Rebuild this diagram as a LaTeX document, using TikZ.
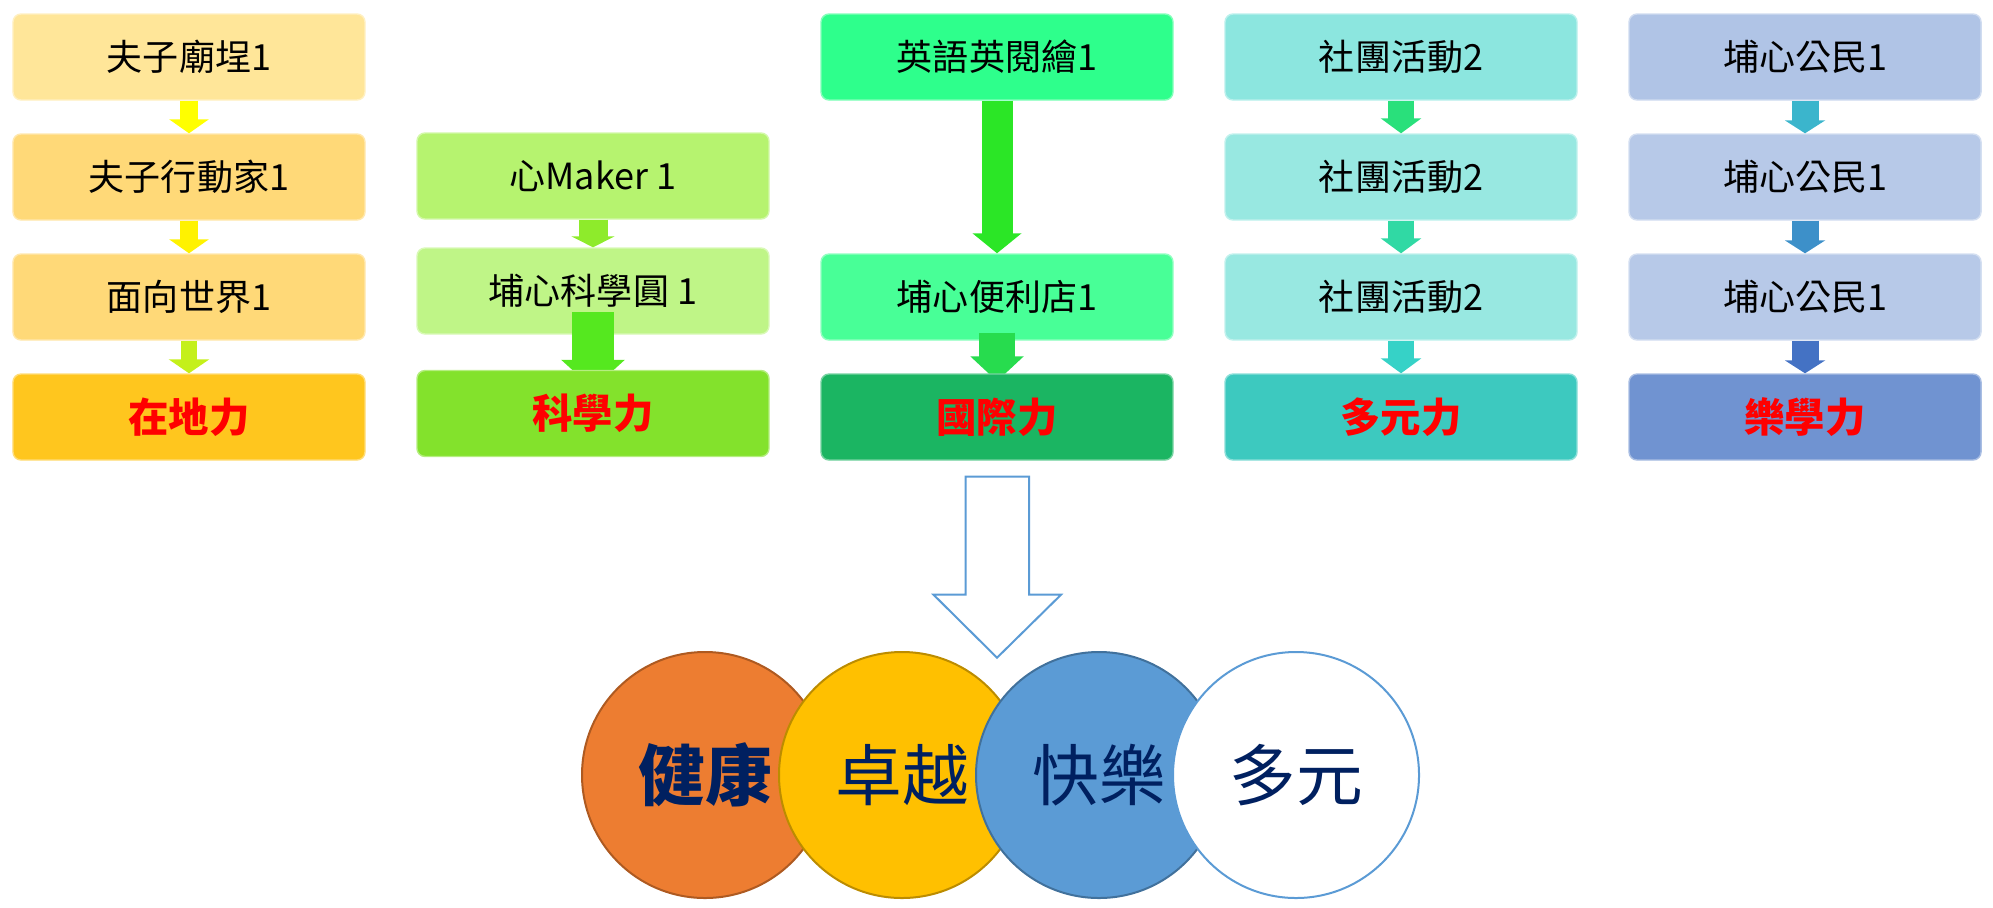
\documentclass[tikz,border=0pt]{standalone}
\usepackage{fontspec}
\setmainfont{Noto Sans CJK TC}
\usetikzlibrary{positioning,arrows.meta,shapes.geometric}
\pgfdeclarelayer{front}
\pgfsetlayers{main,front}

\definecolor{ya}{HTML}{FFE699}
\definecolor{yb}{HTML}{FFD978}
\definecolor{yc}{HTML}{FFC61E}
\definecolor{ga}{HTML}{B6F36F}
\definecolor{gb}{HTML}{BFF587}
\definecolor{gc}{HTML}{83E22C}
\definecolor{ma}{HTML}{2EFF8C}
\definecolor{mb}{HTML}{48FF97}
\definecolor{mc}{HTML}{1BB562}
\definecolor{ta}{HTML}{8CE6DF}
\definecolor{tb}{HTML}{98E8E1}
\definecolor{tc}{HTML}{3DC9BF}
\definecolor{ba}{HTML}{B0C4E6}
\definecolor{bb}{HTML}{B7C9E8}
\definecolor{bc}{HTML}{7093D1}
\definecolor{ya1}{HTML}{FFFF00}
\definecolor{ya2}{HTML}{FFF200}
\definecolor{ya3}{HTML}{C4F01A}
\definecolor{ga1}{HTML}{8EEB2B}
\definecolor{ga2}{HTML}{55E81F}
\definecolor{ma1}{HTML}{2BE626}
\definecolor{ma2}{HTML}{27DC4E}
\definecolor{ta1}{HTML}{29E07B}
\definecolor{ta2}{HTML}{30D9A4}
\definecolor{ta3}{HTML}{36D2C7}
\definecolor{ba1}{HTML}{3BB5CC}
\definecolor{ba2}{HTML}{3D90C9}
\definecolor{ba3}{HTML}{4472C4}
\definecolor{navy}{HTML}{002060}
\definecolor{sky}{HTML}{5B9BD5}
\definecolor{skyrim}{HTML}{41719C}
\definecolor{orange}{HTML}{ED7D31}
\definecolor{orangerim}{HTML}{AE5A21}
\definecolor{gold}{HTML}{FFC000}
\definecolor{goldrim}{HTML}{BC8C00}

\begin{document}
\begin{tikzpicture}[x=0.2mm,y=-0.2mm,node distance=24mm,on grid,
   box/.style={fill=#1,draw=#1!60!white,line width=0.8pt,rounded corners=1.6mm,
     minimum width=70.4mm,minimum height=17.2mm,font=\fontsize{20.5}{24}\selectfont},
   goal/.style={box=#1,text=red,font=\fontsize{23}{28}\selectfont\bfseries},
   flow/.style n args={4}{draw=#1,line width=#2,-{Triangle[width=#3,length=#4]}},
   ball/.style 2 args={circle,fill=#1,draw=#2,line width=0.4mm,minimum size=49.2mm,
     inner sep=0pt,text=navy,font=\fontsize{38}{44}\selectfont},
   hollow/.style={draw=sky,fill=white,line width=0.4mm}]
   \useasboundingbox (0,0) rectangle (1993,907);

   \node[box=ya] (a1) at (189,57) {夫子廟埕1};
   \node[box=yb] (a2) [below=of a1] {夫子行動家1};
   \node[box=yb] (a3) [below=of a2] {面向世界1};

   \node[box=ga] (b1) [below right=23.8mm and 80.8mm of a1] {心Maker 1};
   \node[box=gb] (b2) [below=23mm of b1] {埔心科學圓 1};

   \node[box=ma] (c1) [right=161.6mm of a1] {英語英閱繪1};
   \node[box=mb] (c2) [below=48mm of c1] {埔心便利店1};

   \node[box=ta] (d1) [right=80.8mm of c1] {社團活動2};
   \node[box=tb] (d2) [below=of d1] {社團活動2};
   \node[box=tb] (d3) [below=of d2] {社團活動2};

   \node[box=ba] (e1) [right=80.8mm of d1] {埔心公民1};
   \node[box=bb] (e2) [below=of e1] {埔心公民1};
   \node[box=bb] (e3) [below=of e2] {埔心公民1};

   \begin{pgfonlayer}{front}
   \node[goal=yc] (a4) [below=of a3] {在地力};
   \node[goal=gc] (b3) [below=24.5mm of b2] {科學力};
   \node[goal=mc] (c3) [below=of c2] {國際力};
   \node[goal=tc] (d4) [below=of d3] {多元力};
   \node[goal=bc] (e4) [below=of e3] {樂學力};
   \end{pgfonlayer}

   \draw[flow={ya1}{3.6mm}{7.8mm}{2.8mm}] (a1.south) -- (a2.north);
   \draw[flow={ya2}{3.6mm}{7.8mm}{2.8mm}] (a2.south) -- (a3.north);
   \draw[flow={ya3}{3.2mm}{8mm}{2.8mm}] (a3.south) -- (a4.north);
   \draw[flow={ga1}{5.8mm}{8.6mm}{2.2mm}] (b1.south) -- (b2.north);
   \draw[flow={ga2}{8.4mm}{12.4mm}{5.8mm}] ([yshift=4.5mm]b2.south) -- ([yshift=-3.8mm]b3.north);
   \draw[flow={ma1}{6.2mm}{9.6mm}{4mm}] (c1.south) -- (c2.north);
   \draw[flow={ma2}{7.2mm}{10.4mm}{5mm}] ([yshift=1.6mm]c2.south) -- ([yshift=-1.6mm]c3.north);
   \draw[flow={ta1}{5.2mm}{8mm}{3mm}] (d1.south) -- (d2.north);
   \draw[flow={ta2}{5.2mm}{8mm}{3mm}] (d2.south) -- (d3.north);
   \draw[flow={ta3}{5.2mm}{8mm}{3mm}] (d3.south) -- (d4.north);
   \draw[flow={ba1}{5.4mm}{8mm}{2.6mm}] (e1.south) -- (e2.north);
   \draw[flow={ba2}{5.4mm}{8mm}{2.6mm}] (e2.south) -- (e3.north);
   \draw[flow={ba3}{5.4mm}{8mm}{2.6mm}] (e3.south) -- (e4.north);

   \coordinate (drop) at ([yshift=-3.2mm]c3.south);
   \coordinate (land) at ([yshift=-36.2mm]drop);
   \draw[hollow] (drop) ++(-31.5,0) -- ++(0,118) -- ++(-32,0) -- (land)
      -- ++(64,-63) -- ++(-32,0) -- ++(0,-118) -- cycle;

   \node[ball={orange}{orangerim},font=\fontsize{38}{44}\selectfont\bfseries] (h1) at (705,775) {健康};
   \node[ball={gold}{goldrim}] (h2) [right=39.4mm of h1] {卓越};
   \node[ball={sky}{skyrim}] (h3) [right=39.4mm of h2] {快樂};
   \node[ball={white}{sky}] (h4) [right=39.4mm of h3] {多元};
\end{tikzpicture}
\end{document}
